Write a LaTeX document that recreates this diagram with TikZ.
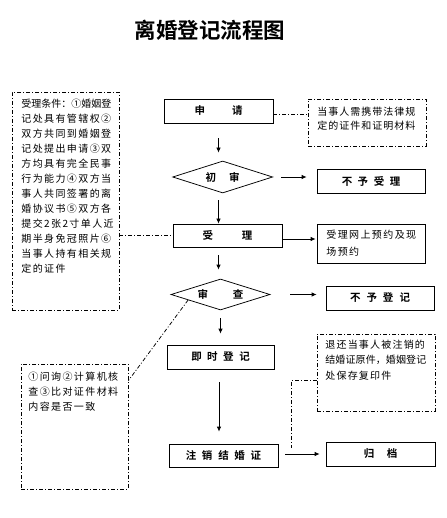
\documentclass[tikz,border=0pt]{standalone}
\usepackage{fontspec}
\newfontfamily\cjk{Noto Sans CJK SC}
\newfontfamily\cjkbf{Noto Sans CJK SC Bold}
\usetikzlibrary{shapes.geometric,arrows.meta,calc}

\tikzset{every picture/.style={line width=0.75pt}}
\tikzset{
  stepbox/.style={draw, rectangle, inner sep=0pt, font=\cjkbf\fontsize{10.5}{12}\selectfont},
  checkbox/.style={draw, diamond, aspect=3, inner sep=0pt, font=\cjkbf\fontsize{10.5}{12}\selectfont},
  notebox/.style={draw, rectangle, inner sep=0pt, dash pattern=on 4pt off 2pt on 1pt off 2pt},
  notetext/.style={anchor=north west, inner sep=0pt, align=left},
  noteline/.style={dash pattern=on 4pt off 2pt on 1pt off 2pt},
  flow/.style={-{Latex[length=5pt,width=4.5pt]}}
}

\begin{document}
\begin{tikzpicture}[x=1pt,y=1pt,yscale=-1,xscale=1]
\path[use as bounding box] (0,0) rectangle (446,518);

% Title
\node (title) at (210,30) {\cjkbf\fontsize{21.5}{24}\selectfont 离婚登记流程图};

% Main steps
\node[stepbox, minimum width=109, minimum height=24] (apply) at (218.5,111) {申\hspace{27pt}请};
\node[checkbox, minimum width=100, minimum height=32] (check1) at (222.7,177) {初\hspace{13pt}审};
\node[stepbox, minimum width=108, minimum height=24] (reject1) at (371,181) {不\hspace{5.5pt}予\hspace{5.5pt}受\hspace{5.5pt}理\hspace{24pt}};
\node[stepbox, minimum width=109, minimum height=23] (accept) at (227.5,235.5) {受\hspace{29pt}理\hspace{15pt}};
\node[checkbox, minimum width=99, minimum height=31] (check2) at (220.5,294.5) {审\hspace{25pt}查\hspace{13pt}};
\node[stepbox, minimum width=108, minimum height=24] (reject2) at (380,298) {不\hspace{6pt}予\hspace{6pt}登\hspace{6pt}记\hspace{24pt}};
\node[stepbox, minimum width=107, minimum height=24] (register) at (220.5,357) {即\hspace{5.5pt}时\hspace{5.5pt}登\hspace{5.5pt}记\hspace{13pt}};
\node[stepbox, minimum width=109, minimum height=23] (cancel) at (223.5,455.5) {注\hspace{5.75pt}销\hspace{5.75pt}结\hspace{5.75pt}婚\hspace{5.75pt}证\hspace{8pt}};
\node[stepbox, minimum width=109, minimum height=24] (archive) at (380.5,454) {归\hspace{12.5pt}档\hspace{20pt}};

% Notes
\node[notebox, minimum width=107, minimum height=218] (terms) at (65.5,201) {};
\node[notetext, font=\cjk\fontsize{10}{15}\selectfont\addfontfeature{LetterSpace=14}] (termstext) at (21,98.5)
  {{\addfontfeature{LetterSpace=0}受理条件：①婚姻登}\\记处具有管辖权②\\双方共同到婚姻登\\记处提出申请③双\\方均具有完全民事\\行为能力④双方当\\事人共同签署的离\\婚协议书⑤双方各\\提交2张2寸单人近\\期半身免冠照片⑥\\当事人持有相关规\\定的证件};
\node[notebox, minimum width=118, minimum height=47] (papers) at (367,122.5) {};
\node[notetext, font=\cjk\fontsize{10}{14}\selectfont\addfontfeature{LetterSpace=10}] (paperstext) at (317,106.5)
  {当事人需携带法律规\\定的证件和证明材料};
\node[notebox, minimum width=108, minimum height=39, solid] (booking) at (371,243.5) {};
\node[notetext, font=\cjk\fontsize{10}{17}\selectfont\addfontfeature{LetterSpace=14}] (bookingtext) at (326,229.5)
  {受理网上预约及现\\场预约};
\node[notebox, minimum width=107, minimum height=125] (verify) at (74.5,426.5) {};
\node[notetext, font=\cjk\fontsize{10}{15}\selectfont\addfontfeature{LetterSpace=14}] (verifytext) at (28,371.5)
  {①问询②计算机核\\查③比对证件材料\\内容是否一致};
\node[notebox, minimum width=118, minimum height=77] (returned) at (376,372.5) {};
\node[notetext, font=\cjk\fontsize{10}{15.5}\selectfont\addfontfeature{LetterSpace=12}] (returnedtext) at (325,339.5)
  {退还当事人被注销的\\{\addfontfeature{LetterSpace=1}结婚证原件，婚姻登记}\\处保存复印件};

% Flow arrows
\draw[flow, shorten <=15pt, shorten >=8pt] (apply.south) -- (apply.south |- check1.north);
\draw[flow, shorten <=8pt, shorten >=10pt] (check1.east) -- (check1.east -| reject1.west);
\draw[flow, shorten <=7pt] (apply.south |- check1.south) -- (apply.south |- accept.north);
\draw[flow, shorten >=1pt] ([yshift=3.5pt]accept.east) -- ([yshift=3.5pt]accept.east -| booking.west);
\draw[flow, shorten <=8pt, shorten >=9pt] (apply.south |- accept.south) -- (apply.south |- check2.north);
\draw[flow, shorten <=20pt, shorten >=9pt] (check2.east) -- (check2.east -| reject2.west);
\draw[flow, shorten <=8pt, shorten >=11pt] (check2.south) -- (check2.south |- register.north);
\draw[flow, shorten <=13pt, shorten >=12pt] ([xshift=-1.5pt]register.south) -- ([xshift=-1.5pt]register.south |- cancel.north);
\draw[flow, shorten <=7pt, shorten >=6pt] ([yshift=-1.5pt]cancel.east) -- ([yshift=-1.5pt]cancel.east -| archive.west);

% Note connectors
\coordinate (archivetap) at (291,448);
\draw[noteline] ([yshift=3pt]apply.east) -- ([yshift=3pt]apply.east -| papers.west);
\draw[noteline] (accept.west -| terms.east) -- (accept.west);
\draw[noteline] ($(check2.west)!0.35!(check2.south)$) -- ([yshift=17pt]verify.north east);
\draw[noteline] ([yshift=47pt]returned.north west) -| (archivetap);

\end{tikzpicture}
\end{document}
